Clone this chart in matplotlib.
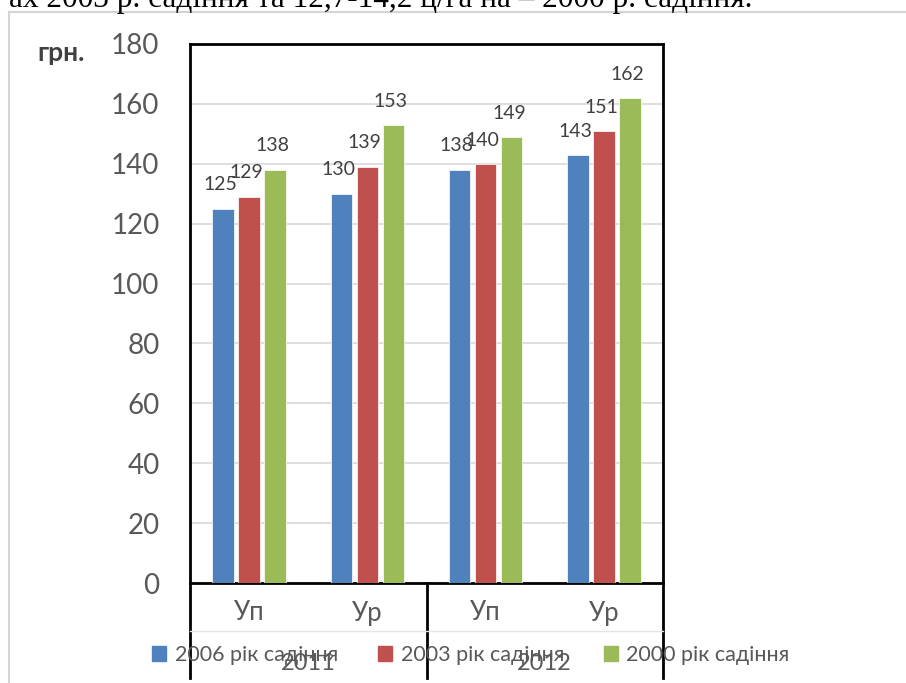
import numpy as np
import matplotlib
matplotlib.use("Agg")
from matplotlib import pyplot as plt
from matplotlib.lines import Line2D
from matplotlib.patches import Rectangle

plt.rcParams['font.family'] = ['Lato', 'DejaVu Sans']

categories = ["Уп", "Ур", "Уп", "Ур"]
years = ["2011", "2012"]
series_names = ["2006 рік садіння", "2003 рік садіння", "2000 рік садіння"]
s2006 = [125, 130, 138, 143]
s2003 = [129, 139, 140, 151]
s2000 = [138, 153, 149, 162]
colors = ["#4F81BD", "#C0504D", "#9BBB59"]
yticks = list(range(0, 181, 20))

W, H = 906, 683
fig = plt.figure(figsize=(W / 100, H / 100), dpi=100)

# outer frame of the document box
fig.add_artist(Line2D([9 / W, 1.0], [1 - 12 / H, 1 - 12 / H], color="#D4D4D4", lw=1.5))
fig.add_artist(Line2D([9 / W, 9 / W], [0, 1 - 12 / H], color="#D4D4D4", lw=1.5))

# text line from the page above the chart (cut off)
fig.text(752 / W, 1 - 7 / H, "ах 2003 р. садіння та 12,7-14,2 ц/га на – 2000 р. садіння.",
         ha="right", va="baseline", fontsize=22.5, family="Liberation Serif", color="black")

ax = fig.add_axes([190 / W, 1 - 583 / H, 473 / W, 539 / H])
x = np.arange(len(categories))
width = 0.18
offs = [-0.22, 0, 0.22]
for vals, off, c, name in zip([s2006, s2003, s2000], offs, colors, series_names):
    bars = ax.bar(x + off, vals, width, color=c, label=name, zorder=3,
                  edgecolor="white", linewidth=0.5)
    for b, v in zip(bars, vals):
        ax.annotate(str(v), (b.get_x() + b.get_width() / 2, v), xytext=(-2, 11),
                    textcoords="offset points", ha="center", va="bottom",
                    fontsize=14, color="#404040", zorder=4)

ax.set_xlim(-0.5, 3.5)
ax.set_ylim(0, 180)
ax.set_yticks(yticks)
ax.set_yticklabels([str(t) for t in yticks], fontsize=20, color="#595959")
ax.tick_params(axis="y", length=0, pad=22)
ax.set_xticks([])
ax.grid(axis="y", color="#D9D9D9", lw=1.2, zorder=0)
for sp in ax.spines.values():
    sp.set_linewidth(2)
    sp.set_color("black")

# category axis (two levels)
for i, cat in enumerate(categories):
    xf = (190 + 118.25 * (i + 0.5)) / W
    fig.text(xf, 1 - 613 / H, cat, ha="center", va="center", fontsize=18.5, color="#595959")
for i, yr in enumerate(years):
    xf = (190 + 236.5 * (i + 0.5)) / W
    fig.text(xf, 1 - 663 / H, yr, ha="center", va="center", fontsize=17, color="#595959")
for xp in [190, 426.5, 663]:
    fig.add_artist(Line2D([xp / W, xp / W], [1 - 678 / H, 1 - 583 / H], color="black", lw=2))
fig.add_artist(Line2D([190 / W, 663 / W], [1 - 631 / H, 1 - 631 / H], color="#E4E4E4", lw=1))

fig.text(61 / W, 1 - 53 / H, "грн.", ha="center", va="center", fontsize=19,
         fontweight="bold", color="#404040")

handles = [Rectangle((0, 0), 1, 1, color=c) for c in colors]
leg = fig.legend(handles, series_names, loc="center", bbox_to_anchor=(471 / W, 1 - 655 / H),
                 ncol=3, frameon=False, fontsize=15.5, handlelength=0.65, handleheight=0.65,
                 handletextpad=0.4, columnspacing=1.85)
for t in leg.get_texts():
    t.set_color("#595959")

fig.savefig("out.png", dpi=100)
